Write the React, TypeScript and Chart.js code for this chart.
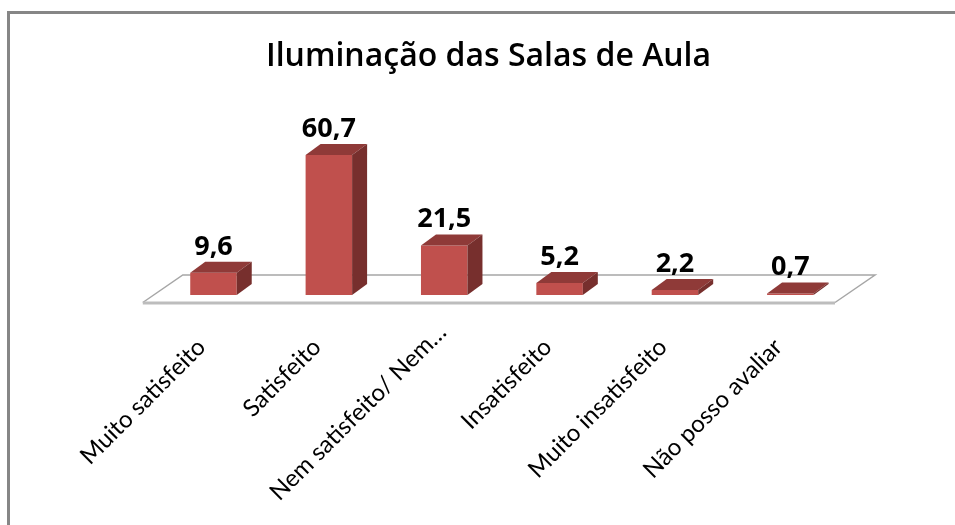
import React, { useEffect, useRef } from "react";
import { Chart, registerables } from "chart.js";

Chart.register(...registerables);

const categories = [
  "Muito satisfeito",
  "Satisfeito",
  "Nem satisfeito/ Nem…",
  "Insatisfeito",
  "Muito insatisfeito",
  "Não posso avaliar",
];
const values = [9.6, 60.7, 21.5, 5.2, 2.2, 0.7];
const chartTitle = "Iluminação das Salas de Aula";

const FONT = "Lato, 'Open Sans', sans-serif";
const TITLE_FONT = "'Open Sans', sans-serif";
const DX = 15;
const DY = -11;

const framePlugin = {
  id: "frame",
  beforeDraw(chart: any) {
    const { ctx, width, height } = chart;
    ctx.save();
    ctx.fillStyle = "#ffffff";
    ctx.fillRect(0, 0, width, height);
    ctx.fillStyle = "#868686";
    ctx.fillRect(7, 11, width - 7, 3);
    ctx.fillRect(7, 11, 3, height - 11);
    ctx.restore();
    // The truncated third label sits further along its slant than the others.
    const item = chart.scales.x.getLabelItems()[2];
    if (item && !item.nudged) {
      item.options.translation[0] += 10;
      item.options.translation[1] -= 15;
      item.nudged = true;
    }
  },
};

const floorPlugin = {
  id: "floor",
  beforeDatasetsDraw(chart: any) {
    const { ctx } = chart;
    const y0 = chart.scales.y.getPixelForValue(0);
    const left = chart.scales.x.left;
    const right = chart.scales.x.right;
    ctx.save();
    ctx.strokeStyle = "#a6a6a6";
    ctx.lineWidth = 1.5;
    ctx.beginPath();
    ctx.moveTo(left - 13, y0 + 7.5);
    ctx.lineTo(left + 27, y0 - 20);
    ctx.lineTo(right + 27, y0 - 20);
    ctx.lineTo(right - 13, y0 + 7.5);
    ctx.stroke();
    ctx.strokeStyle = "#bdbdbd";
    ctx.lineWidth = 3;
    ctx.beginPath();
    ctx.moveTo(left - 13, y0 + 8);
    ctx.lineTo(right - 13, y0 + 8);
    ctx.stroke();
    ctx.restore();
  },
};

const bar3dPlugin = {
  id: "bar3d",
  afterDatasetsDraw(chart: any) {
    const { ctx } = chart;
    const bars = chart.getDatasetMeta(0).data;
    ctx.save();
    bars.forEach((bar: any, i: number) => {
      const half = bar.width / 2;
      const l = bar.x - half;
      const r = bar.x + half;
      const t = bar.y;
      const b = bar.base;
      ctx.fillStyle = "#8f3a38";
      ctx.beginPath();
      ctx.moveTo(l, t);
      ctx.lineTo(l + DX, t + DY);
      ctx.lineTo(r + DX, t + DY);
      ctx.lineTo(r, t);
      ctx.closePath();
      ctx.fill();
      ctx.fillStyle = "#772f2d";
      ctx.beginPath();
      ctx.moveTo(r, t);
      ctx.lineTo(r + DX, t + DY);
      ctx.lineTo(r + DX, b + DY);
      ctx.lineTo(r, b);
      ctx.closePath();
      ctx.fill();
      ctx.fillStyle = "#000000";
      ctx.font = `700 27px ${TITLE_FONT}`;
      ctx.textAlign = "center";
      ctx.textBaseline = "alphabetic";
      ctx.fillText(String(values[i]).replace(".", ","), bar.x, t + DY - 7);
    });
    ctx.restore();
  },
};

export default function App() {
  const ref = useRef<HTMLCanvasElement | null>(null);
  useEffect(() => {
    document.body.style.margin = "0";
    const chart = new Chart(ref.current as HTMLCanvasElement, {
      type: "bar",
      data: {
        labels: categories,
        datasets: [
          {
            data: values,
            backgroundColor: "#c0504d",
            categoryPercentage: 1,
            barPercentage: 0.403,
          },
        ],
      },
      options: {
        animation: false,
        responsive: false,
        layout: { padding: { left: 129, right: 107, top: 0, bottom: 0 } },
        plugins: {
          legend: { display: false },
          tooltip: { enabled: false },
          title: {
            display: true,
            text: chartTitle,
            color: "#000000",
            font: { family: TITLE_FONT, size: 32, weight: "600", lineHeight: 1.2 },
            padding: { top: 38, bottom: 11.1 },
          },
        },
        scales: {
          x: {
            grid: { display: false },
            border: { display: false },
            afterFit(scale: any) {
              scale.height = 230;
            },
            ticks: {
              autoSkip: false,
              minRotation: 45,
              maxRotation: 45,
              padding: 30,
              labelOffset: -12,
              color: "#000000",
              font: { family: FONT, size: 24 },
            },
          },
          y: {
            display: true,
            min: 0,
            max: 90,
            grid: { display: false },
            border: { display: false },
            ticks: { display: false },
            afterFit(scale: any) {
              scale.width = 26.8;
            },
          },
        },
      },
      plugins: [framePlugin, floorPlugin, bar3dPlugin],
    } as any);
    return () => chart.destroy();
  }, []);
  return <canvas ref={ref} width={955} height={525} style={{ display: "block" }} />;
}
